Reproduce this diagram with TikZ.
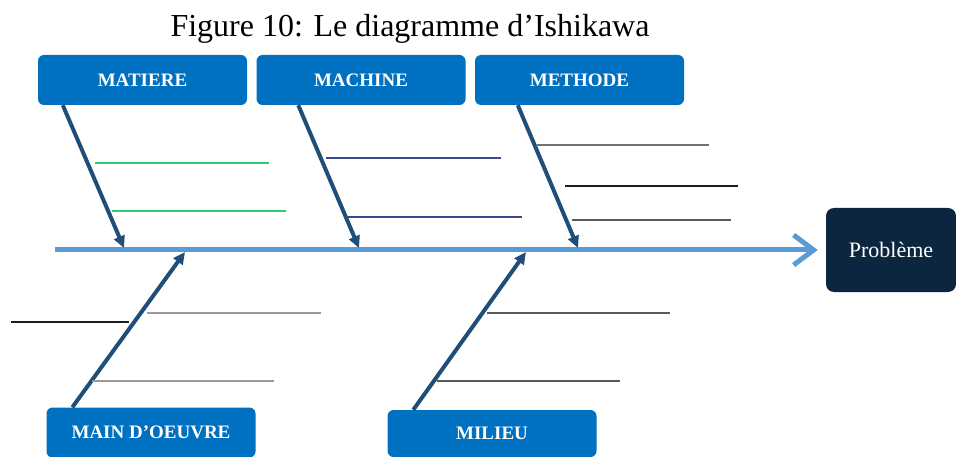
\documentclass[tikz,border=0pt]{standalone}
\usepackage{fontspec}
\setmainfont{Liberation Serif}
\usetikzlibrary{arrows.meta}
\definecolor{catblue}{RGB}{0,112,192}
\definecolor{effectnavy}{RGB}{13,38,64}
\definecolor{spineblue}{RGB}{91,155,213}
\definecolor{bonedark}{RGB}{31,78,121}
\definecolor{subgreen}{RGB}{46,204,113}
\definecolor{subnavy}{RGB}{60,72,140}
\definecolor{subgray}{RGB}{128,128,128}
\definecolor{subdark}{RGB}{30,30,30}
\tikzset{
  catbox/.style={fill=catblue, rounded corners=6pt, minimum width=209pt,
    minimum height=50pt, inner sep=0pt, text=white,
    font=\fontsize{19}{21}\selectfont\bfseries},
  effectbox/.style={fill=effectnavy, rounded corners=8pt, minimum width=130pt,
    minimum height=84pt, inner sep=0pt, text=white,
    font=\fontsize{22}{24}\selectfont},
  spine/.style={draw=spineblue, line width=5pt,
    -{Straight Barb[length=20pt,width=30pt,line width=5pt]}},
  bone/.style={draw=bonedark, line width=4pt,
    -{Triangle[length=12pt,width=11pt]}},
  subline/.style={line width=1.3pt},
}
\begin{document}
\begin{tikzpicture}[x=1pt,y=-1pt]
\useasboundingbox (0,0) rectangle (956,457);

% title
\node[font=\fontsize{32}{36}\selectfont, anchor=base] (title) at (410,37)
  {Figure 10: Le diagramme d’Ishikawa};

% category boxes
\node[catbox] (matiere) at (142.5,80) {MATIERE};
\node[catbox] (machine) at (361,80) {MACHINE};
\node[catbox] (methode) at (579.5,80) {METHODE};
\node[catbox] (mainoeuvre) at (151,432.5) {MAIN D’OEUVRE};
\node[catbox, minimum height=47pt] (milieu) at (492,433.5) {MILIEU};

% effect
\node[effectbox] (probleme) at (891,250) {Problème};

% spine
\coordinate (spinestart) at (55,250);
\draw[spine] (spinestart) -- ([xshift=-8pt]probleme.west);

% bone tips on the spine
\coordinate (tipmat) at (124,248);
\coordinate (tipmac) at (359,248);
\coordinate (tipmet) at (578,248);
\coordinate (tipmo) at (185,252);
\coordinate (tipmil) at (526,252);

\draw[bone] ([xshift=25pt]matiere.south west) -- (tipmat);
\draw[bone] ([xshift=42pt]machine.south west) -- (tipmac);
\draw[bone] ([xshift=43pt]methode.south west) -- (tipmet);
\draw[bone] ([xshift=26pt]mainoeuvre.north west) -- (tipmo);
\draw[bone] ([xshift=26pt]milieu.north west) -- (tipmil);

% sub-cause lines
\draw[subline, subgreen] (95,163) -- (269,163);
\draw[subline, subgreen] (112,211) -- (286,211);

\draw[subline, subnavy] (326,158) -- (501,158);
\draw[subline, subnavy] (348,217) -- (522,217);

\draw[subline, subgray!90!black] (536,145) -- (709,145);
\draw[subline, subdark] (565,186) -- (738,186);
\draw[subline, subgray!70!black] (572,220) -- (731,220);

\draw[subline, subdark] (11,322) -- (129,322);
\draw[subline, subgray!80] (147,313) -- (321,313);
\draw[subline, subgray!80] (92,381) -- (274,381);

\draw[subline, subgray!70!black] (487,313) -- (670,313);
\draw[subline, subgray!70!black] (437,381) -- (620,381);
\end{tikzpicture}
\end{document}
